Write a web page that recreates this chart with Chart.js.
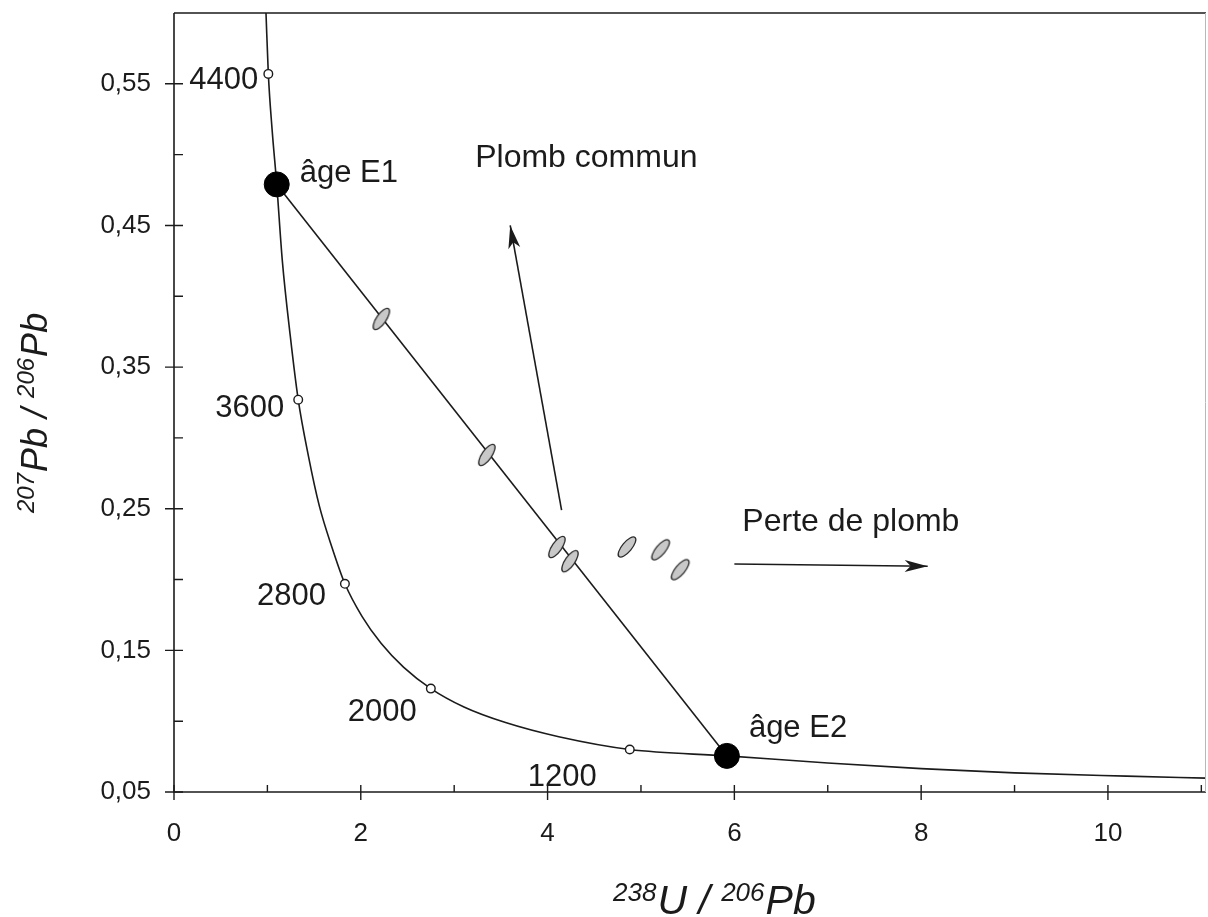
<!DOCTYPE html>
<html>
<head>
<meta charset="utf-8">
<title>Diagramme Tera-Wasserburg</title>
<script src="https://cdn.jsdelivr.net/npm/chart.js@4.4.1/dist/chart.umd.min.js"></script>
<style>
  html, body { margin: 0; padding: 0; background: #fff; }
  #wrap { width: 1208px; height: 917px; }
</style>
</head>
<body>
<div id="wrap"><canvas id="concordiaChart" width="1208" height="917"></canvas></div>
<script>
// concordia.js
// Tera-Wasserburg diagram: concordia, discordia and zircon analyses

// Concordia curve (238U/206Pb, 207Pb/206Pb)
const concordiaX = [0.985, 1.01, 1.05, 1.10, 1.16, 1.245, 1.33, 1.44, 1.556, 1.69, 1.83, 2.013, 2.217, 2.46, 2.75, 3.105, 3.55, 4.12, 4.88, 5.92, 7.0, 8.0, 9.0, 10.2, 11.05];
const concordiaY = [0.600, 0.557, 0.518, 0.479, 0.425, 0.372, 0.327, 0.287, 0.252, 0.223, 0.197, 0.174, 0.155, 0.138, 0.123, 0.110, 0.099, 0.089, 0.080, 0.0755, 0.0705, 0.0665, 0.0635, 0.0612, 0.0598];

// Age marks on the concordia (Ma)
const ageLabels = ['4400', '3600', '2800', '2000', '1200'];
const ageX = [1.01, 1.33, 1.83, 2.75, 4.88];
const ageY = [0.557, 0.327, 0.197, 0.123, 0.080];

// Upper and lower intercepts of the discordia
const interceptLabels = ['âge E1', 'âge E2'];
const interceptX = [1.10, 5.92];
const interceptY = [0.479, 0.0755];

// Analyses lying on the discordia
const alignedX = [2.22, 3.35, 4.10, 4.24];
const alignedY = [0.384, 0.288, 0.223, 0.213];

// Analyses moved off the line
const shiftedX = [4.85, 5.21, 5.42];
const shiftedY = [0.223, 0.221, 0.207];

// Arrows (start, tip)
const arrowLabels = ['Plomb commun', 'Perte de plomb'];
const commonLeadX = [4.15, 3.60];
const commonLeadY = [0.249, 0.450];
const leadLossX = [6.00, 8.07];
const leadLossY = [0.211, 0.2094];

// Axis ticks
const xTickValues = [0, 2, 4, 6, 8, 10];
const xTickLabels = ['0', '2', '4', '6', '8', '10'];
const xMinorTicks = [1, 3, 5, 7, 9, 11];
const yTickValues = [0.05, 0.15, 0.25, 0.35, 0.45, 0.55];
const yTickLabels = ['0,05', '0,15', '0,25', '0,35', '0,45', '0,55'];
const yMinorTicks = [0.10, 0.20, 0.30, 0.40, 0.50];

const INK = '#1b1b1b';
const FONT = '"Liberation Sans", Arial, Helvetica, sans-serif';

function toPoints(xs, ys) {
    return xs.map((x, i) => ({ x: x, y: ys[i] }));
}

// small rotated error ellipse used as a point style
function makeEllipse(angleDeg) {
    const c = document.createElement('canvas');
    c.width = 36;
    c.height = 36;
    const g = c.getContext('2d');
    g.translate(18, 18);
    g.rotate(-angleDeg * Math.PI / 180);
    g.beginPath();
    g.ellipse(0, 0, 12.5, 4.8, 0, 0, Math.PI * 2);
    g.fillStyle = '#c8c8c8';
    g.fill();
    g.lineWidth = 1.3;
    g.strokeStyle = '#2b2b2b';
    g.stroke();
    return c;
}

function drawArrowHead(ctx, x0, y0, x1, y1) {
    const ang = Math.atan2(y1 - y0, x1 - x0);
    ctx.save();
    ctx.translate(x1, y1);
    ctx.rotate(ang);
    ctx.beginPath();
    ctx.moveTo(0, 0);
    ctx.lineTo(-23, -6);
    ctx.lineTo(-17, 0);
    ctx.lineTo(-23, 6);
    ctx.closePath();
    ctx.fillStyle = INK;
    ctx.fill();
    ctx.restore();
}

// draws runs like [{t:'238', sup:true}, {t:'U / '}] in italics
function drawRuns(ctx, runs, x, y, mainSize, supSize, rise) {
    let cx = x;
    runs.forEach(r => {
        ctx.font = 'italic ' + (r.sup ? supSize : mainSize) + 'px ' + FONT;
        ctx.fillText(r.t, cx, r.sup ? y - rise : y);
        cx += ctx.measureText(r.t).width + (r.sup ? 1 : 0);
    });
}

const decorPlugin = {
    id: 'decor',
    afterDatasetsDraw(chart) {
        const { ctx, chartArea: a, scales } = chart;
        const sx = scales.x;
        const sy = scales.y;
        ctx.save();

        // frame
        ctx.strokeStyle = INK;
        ctx.lineWidth = 1.6;
        ctx.beginPath();
        ctx.moveTo(a.left, a.top);
        ctx.lineTo(a.left, a.bottom);
        ctx.lineTo(a.right, a.bottom);
        ctx.moveTo(a.left, a.top);
        ctx.lineTo(a.right, a.top);
        ctx.stroke();
        ctx.strokeStyle = '#b8b8b8';
        ctx.lineWidth = 1;
        ctx.beginPath();
        ctx.moveTo(a.right - 0.5, a.top);
        ctx.lineTo(a.right - 0.5, a.bottom);
        ctx.stroke();

        // ticks: major ones cross the axis, minor ones point inside
        ctx.strokeStyle = INK;
        ctx.lineWidth = 1.4;
        ctx.beginPath();
        xTickValues.forEach(v => {
            const px = sx.getPixelForValue(v);
            ctx.moveTo(px, a.bottom - 7);
            ctx.lineTo(px, a.bottom + 8);
        });
        xMinorTicks.forEach(v => {
            const px = sx.getPixelForValue(v);
            ctx.moveTo(px, a.bottom - 7);
            ctx.lineTo(px, a.bottom);
        });
        yTickValues.forEach(v => {
            const py = sy.getPixelForValue(v);
            ctx.moveTo(a.left - 9, py);
            ctx.lineTo(a.left + 9, py);
        });
        yMinorTicks.forEach(v => {
            const py = sy.getPixelForValue(v);
            ctx.moveTo(a.left, py);
            ctx.lineTo(a.left + 9, py);
        });
        ctx.stroke();

        // arrow heads
        drawArrowHead(ctx,
            sx.getPixelForValue(commonLeadX[0]), sy.getPixelForValue(commonLeadY[0]),
            sx.getPixelForValue(commonLeadX[1]), sy.getPixelForValue(commonLeadY[1]));
        drawArrowHead(ctx,
            sx.getPixelForValue(leadLossX[0]), sy.getPixelForValue(leadLossY[0]),
            sx.getPixelForValue(leadLossX[1]), sy.getPixelForValue(leadLossY[1]));

        // age labels, right aligned to the left of each mark
        const ageOffsets = [[-10, 15], [-14, 17], [-19, 21], [-14, 32], [-33, 36]];
        ctx.fillStyle = INK;
        ctx.font = '31px ' + FONT;
        ctx.textBaseline = 'alphabetic';
        ctx.textAlign = 'right';
        ageLabels.forEach((lab, i) => {
            const px = sx.getPixelForValue(ageX[i]);
            const py = sy.getPixelForValue(ageY[i]);
            ctx.fillText(lab, px + ageOffsets[i][0], py + ageOffsets[i][1]);
        });

        // intercept labels
        ctx.textAlign = 'left';
        const interceptOffsets = [[23, -2], [22, -19]];
        interceptLabels.forEach((lab, i) => {
            const px = sx.getPixelForValue(interceptX[i]);
            const py = sy.getPixelForValue(interceptY[i]);
            ctx.fillText(lab, px + interceptOffsets[i][0], py + interceptOffsets[i][1]);
        });

        // arrow captions
        ctx.font = '32px ' + FONT;
        ctx.fillText(arrowLabels[0],
            sx.getPixelForValue(commonLeadX[1]) - 35, sy.getPixelForValue(commonLeadY[1]) - 58);
        ctx.fillText(arrowLabels[1],
            sx.getPixelForValue(leadLossX[0]) + 8, sy.getPixelForValue(leadLossY[0]) - 33);

        // axis titles with isotope superscripts
        drawRuns(ctx, [
            { t: '238', sup: true }, { t: 'U / ' },
            { t: '206', sup: true }, { t: 'Pb' }
        ], 613, 914, 41, 26, 13);

        ctx.save();
        ctx.translate(47, 513);
        ctx.rotate(-Math.PI / 2);
        drawRuns(ctx, [
            { t: '207', sup: true }, { t: 'Pb / ' },
            { t: '206', sup: true }, { t: 'Pb' }
        ], 0, 0, 36, 24, 13);
        ctx.restore();

        ctx.restore();
    }
};

function noScalePadding(scale) {
    scale.paddingTop = 0;
    scale.paddingBottom = 0;
    scale.paddingLeft = 0;
    scale.paddingRight = 0;
}

const ctx = document.getElementById('concordiaChart');

new Chart(ctx, {
    type: 'scatter',
    data: {
        datasets: [
            {
                label: 'Intercepts',
                data: toPoints(interceptX, interceptY),
                pointRadius: 12.5,
                pointBackgroundColor: '#000',
                pointBorderColor: '#000',
                pointBorderWidth: 1,
                showLine: false
            },
            {
                label: 'Ages',
                data: toPoints(ageX, ageY),
                pointRadius: 4.3,
                pointBackgroundColor: '#fff',
                pointBorderColor: INK,
                pointBorderWidth: 1.4,
                showLine: false
            },
            {
                label: 'Analyses alignées',
                data: toPoints(alignedX, alignedY),
                pointStyle: makeEllipse(55),
                showLine: false
            },
            {
                label: 'Analyses décalées',
                data: toPoints(shiftedX, shiftedY),
                pointStyle: makeEllipse(50),
                showLine: false
            },
            {
                label: 'Discordia',
                data: toPoints(interceptX, interceptY),
                showLine: true,
                borderColor: INK,
                borderWidth: 1.6,
                pointRadius: 0
            },
            {
                label: 'Plomb commun',
                data: toPoints(commonLeadX, commonLeadY),
                showLine: true,
                borderColor: INK,
                borderWidth: 1.6,
                pointRadius: 0
            },
            {
                label: 'Perte de plomb',
                data: toPoints(leadLossX, leadLossY),
                showLine: true,
                borderColor: INK,
                borderWidth: 1.6,
                pointRadius: 0
            },
            {
                label: 'Concordia',
                data: toPoints(concordiaX, concordiaY),
                showLine: true,
                cubicInterpolationMode: 'monotone',
                borderColor: INK,
                borderWidth: 1.6,
                pointRadius: 0
            }
        ]
    },
    options: {
        responsive: false,
        animation: false,
        devicePixelRatio: 1,
        layout: {
            autoPadding: false,
            padding: { top: 13, right: 2, left: 0, bottom: 0 }
        },
        plugins: {
            legend: { display: false },
            tooltip: { enabled: false }
        },
        scales: {
            x: {
                type: 'linear',
                min: 0,
                max: 11.05,
                afterBuildTicks: scale => {
                    scale.ticks = xTickValues.map(v => ({ value: v }));
                },
                afterFit: scale => {
                    scale.height = 125;
                    noScalePadding(scale);
                },
                grid: { display: false, drawTicks: false },
                border: { display: false },
                ticks: {
                    autoSkip: false,
                    maxRotation: 0,
                    padding: 26,
                    color: INK,
                    font: { family: FONT, size: 26 },
                    callback: (v, i) => xTickLabels[i]
                }
            },
            y: {
                type: 'linear',
                min: 0.05,
                max: 0.60,
                afterBuildTicks: scale => {
                    scale.ticks = yTickValues.map(v => ({ value: v }));
                },
                afterFit: scale => {
                    scale.width = 174;
                    noScalePadding(scale);
                },
                grid: { display: false, drawTicks: false },
                border: { display: false },
                ticks: {
                    autoSkip: false,
                    padding: 23,
                    color: INK,
                    font: { family: FONT, size: 26 },
                    callback: (v, i) => yTickLabels[i]
                }
            }
        }
    },
    plugins: [decorPlugin]
});
</script>
</body>
</html>
